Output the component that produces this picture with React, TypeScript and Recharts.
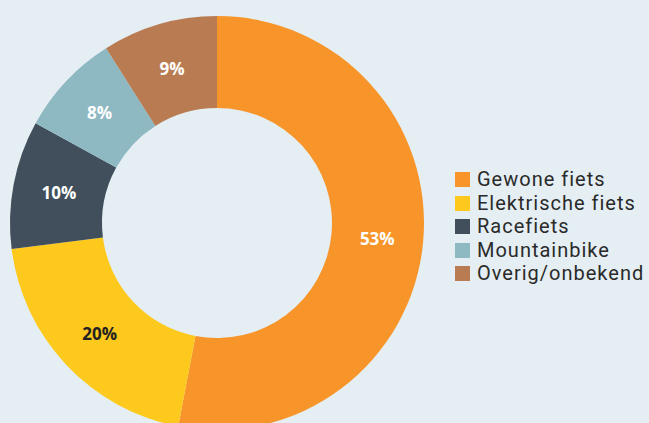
import { Legend, Pie, PieChart } from "recharts";

const categories = ["Gewone fiets", "Elektrische fiets", "Racefiets", "Mountainbike", "Overig/onbekend"];
const shares = [53, 20, 10, 8, 9];
const colors = ["#F7952B", "#FDC91C", "#404F5B", "#8EB8C2", "#B97C52"];
const labelColors = ["#ffffff", "#222222", "#ffffff", "#ffffff", "#ffffff"];

const data = categories.map((name, i) => ({ name, value: shares[i], fill: colors[i] }));

const RADIAN = Math.PI / 180;

function renderLabel(props: any) {
  const { cx, cy, midAngle, innerRadius, outerRadius, value, index } = props;
  const r = (innerRadius + outerRadius) / 2;
  const x = cx + r * Math.cos(-midAngle * RADIAN);
  const y = cy + r * Math.sin(-midAngle * RADIAN);
  return (
    <text
      x={x}
      y={y}
      fill={labelColors[index]}
      textAnchor="middle"
      dominantBaseline="central"
      fontFamily="'Open Sans', sans-serif"
      fontWeight={700}
      fontSize={17}
    >
      {`${value}%`}
    </text>
  );
}

function renderLegend() {
  return (
    <div style={{ fontFamily: "Roboto, sans-serif", fontSize: 20, color: "#2a2a2a", letterSpacing: 1 }}>
      {categories.map((name, i) => (
        <div key={name} style={{ display: "flex", alignItems: "center", height: 23.5 }}>
          <span style={{ width: 15, height: 15, background: colors[i], marginRight: 7, display: "inline-block", flexShrink: 0 }} />
          <span style={{ lineHeight: "23px", whiteSpace: "nowrap" }}>{name}</span>
        </div>
      ))}
    </div>
  );
}

export default function App() {
  return (
    <div style={{ position: "absolute", left: 0, top: 0, width: 649, height: 423, background: "#E5EEF2", overflow: "hidden" }}>
      <PieChart width={649} height={423} margin={{ top: 0, right: 0, bottom: 0, left: 0 }}>
        <Pie
          data={data}
          dataKey="value"
          nameKey="name"
          cx={217}
          cy={223}
          innerRadius={115}
          outerRadius={207}
          startAngle={90}
          endAngle={-270}
          stroke="none"
          label={renderLabel}
          labelLine={false}
          isAnimationActive={false}
        />
        <Legend
          layout="vertical"
          content={renderLegend}
          wrapperStyle={{ position: "absolute", left: 455, top: 168, width: 194 }}
        />
      </PieChart>
    </div>
  );
}
